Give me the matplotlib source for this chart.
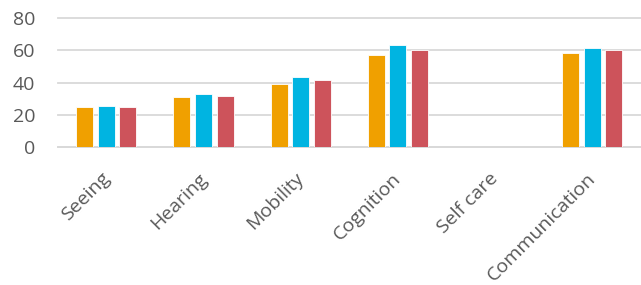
import numpy as np
import matplotlib.pyplot as plt
import matplotlib.transforms as mtrans

categories = ['Seeing', 'Hearing', 'Mobility', 'Cognition', 'Self care', 'Communication']
series_a = [24.7, 30.9, 39.3, 57.0, 0, 58.0]
series_b = [25.3, 32.9, 43.6, 63.4, 0, 61.5]
series_c = [25.1, 31.9, 41.4, 60.3, 0, 60.1]
yticks = [0, 20, 40, 60, 80]

colors = ['#F0A000', '#00B4E1', '#CD535B']

plt.rcParams['font.family'] = ['Open Sans', 'DejaVu Sans']

fig = plt.figure(figsize=(6.41, 2.85), dpi=100)
ax = fig.add_axes([0.09, 0.484, 0.91, 0.453])

x = np.arange(len(categories))
w = 0.175
step = 0.222
for i, (vals, c) in enumerate(zip([series_a, series_b, series_c], colors)):
    ax.bar(x + (i - 1) * step, vals, width=w, color=c, edgecolor='white',
           linewidth=0.6, zorder=3)

ax.set_xlim(-0.5, len(categories) - 0.5)
ax.set_ylim(0, 80)
ax.set_yticks(yticks)
ax.set_xticks(x)
ax.set_xticklabels(categories, rotation=45, ha='right', va='top',
                   rotation_mode='anchor')
ax.tick_params(axis='both', length=0, labelsize=14, colors='#595959')
ax.tick_params(axis='x', pad=16)
ax.tick_params(axis='y', pad=16)
# nudge rotated labels a bit to the left, like the original
shift = mtrans.ScaledTranslation(-6 / 100, 0, fig.dpi_scale_trans)
for lbl in ax.get_xticklabels():
    lbl.set_transform(lbl.get_transform() + shift)
ax.grid(axis='y', color='#D9D9D9', linewidth=1.3, zorder=0)
for gl in ax.get_ygridlines():
    gl.set_clip_on(False)
for s in ['top', 'right', 'left']:
    ax.spines[s].set_visible(False)
ax.spines['bottom'].set_color('#D9D9D9')
ax.spines['bottom'].set_linewidth(1.3)

fig.savefig('out.png', dpi=100)
